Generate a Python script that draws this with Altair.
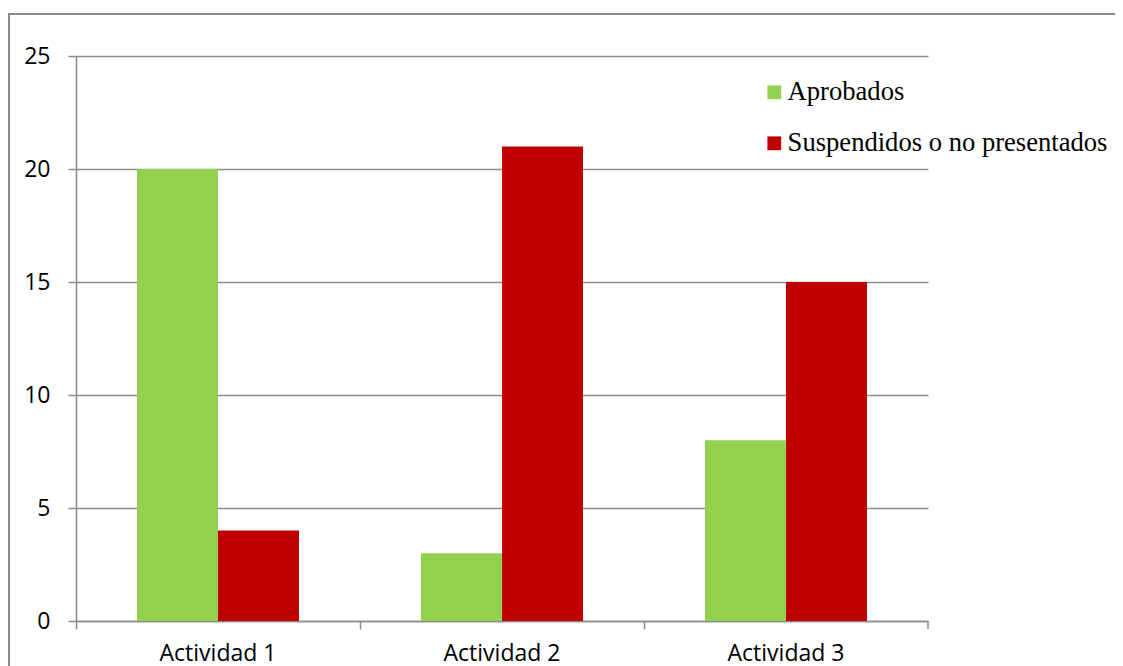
import altair as alt
import pandas as pd

categories = ["Actividad 1", "Actividad 2", "Actividad 3"]
series = ["Aprobados", "Suspendidos o no presentados"]
aprobados = [20, 3, 8]
suspendidos = [4, 21, 15]
colors = ["#92D050", "#C00000"]
y_ticks = [0, 5, 10, 15, 20, 25]

rows = []
for c, a, s in zip(categories, aprobados, suspendidos):
    rows.append({"categoria": c, "serie": series[0], "valor": a})
    rows.append({"categoria": c, "serie": series[1], "valor": s})
df = pd.DataFrame(rows)

GRAY = "#8c8c8c"
W, H = 852, 565
PAD = {"left": 68, "top": 48, "right": 187, "bottom": 45}

bars = alt.Chart(df).mark_bar().encode(
    x=alt.X(
        "categoria:N",
        sort=categories,
        scale=alt.Scale(paddingInner=0, paddingOuter=0),
        axis=alt.Axis(
            title=None,
            labelAngle=0,
            bandPosition=0,
            tickSize=8,
            labelPadding=13,
            grid=False,
        ),
    ),
    xOffset=alt.XOffset(
        "serie:N", sort=series, scale=alt.Scale(paddingInner=0, paddingOuter=0.753)
    ),
    y=alt.Y(
        "valor:Q",
        scale=alt.Scale(domain=[0, 25]),
        axis=alt.Axis(
            title=None,
            values=y_ticks,
            grid=True,
            tickSize=8,
            labelPadding=18,
        ),
    ),
    color=alt.Color(
        "serie:N",
        sort=series,
        scale=alt.Scale(domain=series, range=colors),
        legend=alt.Legend(
            title=None,
            orient="none",
            legendX=685,
            legendY=23,
            symbolType="square",
            symbolSize=190,
            symbolStrokeWidth=0,
            labelFont="Liberation Serif",
            labelFontSize=26.6,
            labelColor="black",
            labelOffset=0,
            labelLimit=0,
            rowPadding=24,
            padding=0,
        ),
    ),
)

one = pd.DataFrame([{"k": 0}])

end_tick = alt.Chart(one).mark_rule(color=GRAY, strokeWidth=1.5).encode(
    x=alt.value(W), y=alt.value(H), y2=alt.value(H + 8)
)
top_border = alt.Chart(one).mark_rect(color=GRAY, strokeWidth=0).encode(
    x=alt.value(-PAD["left"]),
    x2=alt.value(W + PAD["right"] + 30),
    y=alt.value(-43),
    y2=alt.value(-41),
)
left_border = alt.Chart(one).mark_rect(color=GRAY, strokeWidth=0).encode(
    x=alt.value(-PAD["left"]),
    x2=alt.value(-PAD["left"] + 2),
    y=alt.value(-43),
    y2=alt.value(H + PAD["bottom"]),
)

chart = (
    alt.layer(bars, end_tick, top_border, left_border)
    .properties(
        width=W,
        height=H,
        padding=PAD,
        autosize=alt.AutoSizeParams(type="none"),
        background="white",
    )
    .configure_view(stroke=None)
    .configure_axis(
        domainColor=GRAY,
        domainWidth=1.5,
        tickColor=GRAY,
        tickWidth=1.5,
        gridColor=GRAY,
        gridWidth=1.5,
        labelFont="Open Sans",
        labelFontSize=23,
        labelColor="black",
    )
)

chart.save("out.html", embed_options={"renderer": "svg", "actions": False})
